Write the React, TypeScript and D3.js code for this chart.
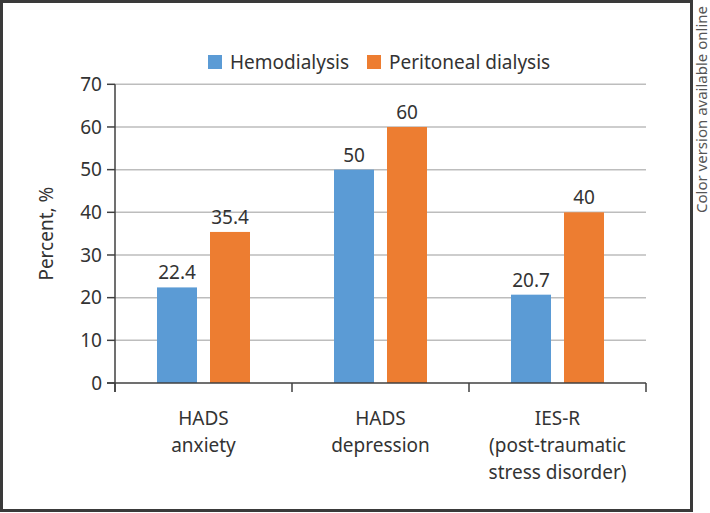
import React from "react";
import * as d3 from "d3";

const categories: string[][] = [
  ["HADS", "anxiety"],
  ["HADS", "depression"],
  ["IES-R", "(post-traumatic", "stress disorder)"],
];
const seriesNames = ["Hemodialysis", "Peritoneal dialysis"];
const hemodialysis = [22.4, 50, 20.7];
const peritoneal = [35.4, 60, 40];
const yTicks = [0, 10, 20, 30, 40, 50, 60, 70];
const colors = ["#5B9BD5", "#ED7D31"];

const W = 710;
const H = 513;
const FONT = "'Noto Sans', 'Open Sans', sans-serif";
const TEXT = "#333333";

export default function App() {
  const left = 115;
  const right = 646;
  const top = 84.3;
  const bottom = 383;
  const x = d3
    .scaleBand<number>()
    .domain(categories.map((_, i) => i))
    .range([left, right]);
  const y = d3.scaleLinear().domain([0, 70]).range([bottom, top]);
  const barW = 40;
  const gap = 13;
  const series = [hemodialysis, peritoneal];

  return (
    <div style={{ position: "absolute", left: 0, top: 0 }}>
      <svg width={W} height={H} style={{ display: "block", background: "#fff" }}>
        <rect x={1.5} y={1.5} width={690} height={509} fill="#fff" stroke="#3a3a3a" strokeWidth={3} />
        {/* gridlines */}
        {yTicks.slice(1).map((t) => (
          <line key={t} x1={left} x2={right} y1={y(t)} y2={y(t)} stroke="#BDBDBD" strokeWidth={1.5} />
        ))}
        {/* bars */}
        {categories.map((_, i) => {
          const cx = (x(i) as number) + x.bandwidth() / 2;
          return series.map((s, k) => {
            const bx = k === 0 ? cx - gap / 2 - barW : cx + gap / 2;
            return (
              <g key={`${i}-${k}`}>
                <rect x={bx} y={y(s[i])} width={barW} height={y(0) - y(s[i])} fill={colors[k]} />
                <text
                  x={bx + barW / 2}
                  y={y(s[i]) - 8}
                  textAnchor="middle"
                  fontFamily={FONT}
                  fontSize={19}
                  fill={TEXT}
                >
                  {String(s[i])}
                </text>
              </g>
            );
          });
        })}
        {/* y axis */}
        <line x1={left} x2={left} y1={top} y2={bottom + 9} stroke="#404040" strokeWidth={1.5} />
        {yTicks.map((t) => (
          <g key={t}>
            <line x1={left - 8} x2={left} y1={y(t)} y2={y(t)} stroke="#404040" strokeWidth={1.5} />
            <text
              x={left - 13}
              y={y(t)}
              dy="0.35em"
              textAnchor="end"
              fontFamily={FONT}
              fontSize={19}
              fill={TEXT}
            >
              {t}
            </text>
          </g>
        ))}
        {/* x axis */}
        <line x1={left - 8} x2={right} y1={bottom} y2={bottom} stroke="#404040" strokeWidth={1.5} />
        {categories.map((_, i) => (
          <line
            key={i}
            x1={x(i) as number}
            x2={x(i) as number}
            y1={bottom}
            y2={bottom + 9}
            stroke="#404040"
            strokeWidth={1.5}
          />
        ))}
        <line x1={right} x2={right} y1={bottom} y2={bottom + 9} stroke="#404040" strokeWidth={1.5} />
        {categories.map((lines, i) => (
          <text
            key={i}
            x={(x(i) as number) + x.bandwidth() / 2}
            y={425}
            textAnchor="middle"
            fontFamily={FONT}
            fontSize={19}
            fill={TEXT}
          >
            {lines.map((l, j) => (
              <tspan key={j} x={(x(i) as number) + x.bandwidth() / 2} dy={j === 0 ? 0 : 27}>
                {l}
              </tspan>
            ))}
          </text>
        ))}
        {/* y title */}
        <text
          transform={`translate(53, ${(top + bottom) / 2}) rotate(-90)`}
          textAnchor="middle"
          fontFamily={FONT}
          fontSize={19}
          fill={TEXT}
        >
          Percent, %
        </text>
        {/* legend */}
        <rect x={208} y={55} width={14} height={14} fill={colors[0]} />
        <text x={230} y={62} dy="0.35em" fontFamily={FONT} fontSize={19} fill={TEXT}>
          {seriesNames[0]}
        </text>
        <rect x={367} y={55} width={14} height={14} fill={colors[1]} />
        <text x={389} y={62} dy="0.35em" fontFamily={FONT} fontSize={19} fill={TEXT}>
          {seriesNames[1]}
        </text>
        {/* side note */}
        <text
          transform={`translate(707, 213) rotate(-90)`}
          textAnchor="start"
          fontFamily={FONT}
          fontSize={15}
          fill="#555"
        >
          Color version available online
        </text>
      </svg>
    </div>
  );
}
